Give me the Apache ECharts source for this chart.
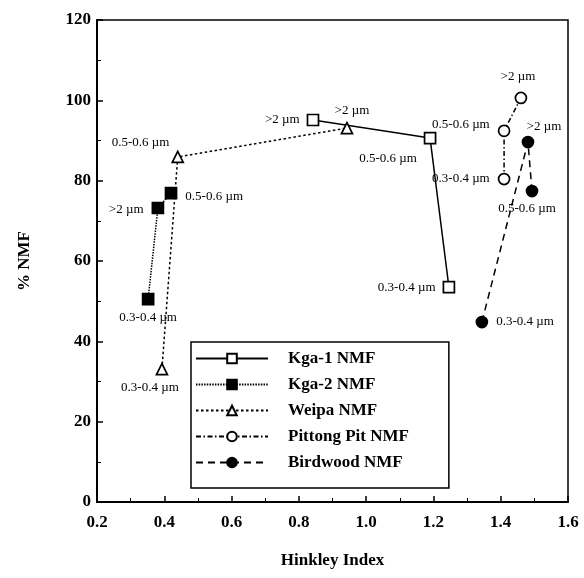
<!DOCTYPE html>
<html>
<head>
<meta charset="utf-8">
<script src="https://cdn.jsdelivr.net/npm/echarts@6/dist/echarts.min.js"></script>
<style>
  html, body { margin: 0; padding: 0; background: #fff; }
  #chart { width: 584px; height: 578px; }
</style>
</head>
<body>
<div id="chart"></div>
<script>
// 数据（按连线顺序）
const kga1Hinkley = [1.246, 1.19, 0.842];
const kga1Nmf = [53.5, 90.6, 95.1];
const kga1Size = ['0.3-0.4 µm', '0.5-0.6 µm', '>2 µm'];

const kga2Hinkley = [0.352, 0.381, 0.42];
const kga2Nmf = [50.5, 73.2, 76.9];
const kga2Size = ['0.3-0.4 µm', '>2 µm', '0.5-0.6 µm'];

const weipaHinkley = [0.393, 0.44, 0.943];
const weipaNmf = [33.1, 85.9, 93.1];
const weipaSize = ['0.3-0.4 µm', '0.5-0.6 µm', '>2 µm'];

const pittongHinkley = [1.41, 1.41, 1.46];
const pittongNmf = [80.4, 92.4, 100.6];
const pittongSize = ['0.3-0.4 µm', '0.5-0.6 µm', '>2 µm'];

const birdwoodHinkley = [1.344, 1.481, 1.493];
const birdwoodNmf = [44.8, 89.6, 77.4];
const birdwoodSize = ['0.3-0.4 µm', '>2 µm', '0.5-0.6 µm'];

const SERIF = 'Liberation Serif';

// 标签位置 [position, distance, offsetX, offsetY]
const kga1Lbl = [['left', 7, 0, 0], ['bottom', 6, -42, 2], ['left', 7, 0, 0]];
const kga2Lbl = [['bottom', 6, 0, 0], ['left', 8, 0, 2], ['right', 8, 0, 3]];
const weipaLbl = [['bottom', 6, -12, 0], ['left', 2, 0, -14], ['top', 5, 5, 0]];
const pittongLbl = [['left', 8, 0, 0], ['left', 8, 0, -6], ['top', 8, -3, 0]];
const birdwoodLbl = [['right', 8, 0, 0], ['top', 3, 16, 0], ['bottom', 5, -5, 0]];

function buildData(xs, ys, sizes, lbl) {
  return xs.map((x, i) => ({
    value: [x, ys[i]],
    label: {
      show: true,
      formatter: sizes[i],
      position: lbl[i][0],
      distance: lbl[i][1],
      offset: [lbl[i][2], lbl[i][3]],
      fontFamily: SERIF,
      fontSize: 13,
      color: '#000'
    }
  }));
}

function lineSeries(name, xs, ys, sizes, lbl, symbol, filled, lineType) {
  return {
    name: name,
    type: 'line',
    data: buildData(xs, ys, sizes, lbl),
    symbol: symbol,
    symbolSize: 11,
    showAllSymbol: true,
    animation: false,
    lineStyle: { color: '#000', width: 1.5, type: lineType },
    itemStyle: {
      color: filled ? '#000' : '#fff',
      borderColor: '#000',
      borderWidth: 1.7
    },
    emphasis: { disabled: true },
    z: 3
  };
}

const chart = echarts.init(document.getElementById('chart'));

const axisLabelStyle = {
  fontFamily: SERIF,
  fontWeight: 'bold',
  fontSize: 17,
  color: '#000'
};

const option = {
  backgroundColor: '#fff',
  animation: false,
  grid: {
    left: 97,
    right: 16,
    top: 20,
    bottom: 76,
    show: true,
    borderColor: '#000',
    borderWidth: 1.5
  },
  legend: {
    orient: 'vertical',
    left: 191,
    top: 342,
    width: 267,
    padding: [8, 40, 17, 4],
    borderColor: '#000',
    borderWidth: 1.5,
    itemWidth: 72,
    itemHeight: 12,
    itemGap: 9,
    selectedMode: false,
    textStyle: {
      fontFamily: SERIF,
      fontWeight: 'bold',
      fontSize: 17,
      lineHeight: 16,
      color: '#000',
      padding: [0, 0, 0, 15]
    },
    data: ['Kga-1 NMF', 'Kga-2 NMF', 'Weipa NMF', 'Pittong Pit NMF', 'Birdwood NMF']
  },
  xAxis: {
    type: 'value',
    min: 0.2,
    max: 1.6,
    interval: 0.2,
    name: 'Hinkley Index',
    nameLocation: 'middle',
    nameGap: 50,
    nameTextStyle: axisLabelStyle,
    axisLine: { lineStyle: { color: '#000', width: 2 } },
    axisTick: { inside: true, length: 6, lineStyle: { color: '#000', width: 1.5 } },
    minorTick: { show: true, splitNumber: 2, length: 4, lineStyle: { color: '#000', width: 1 } },
    splitLine: { show: false },
    axisLabel: Object.assign({ margin: 12, formatter: (v) => v.toFixed(1) }, axisLabelStyle)
  },
  yAxis: {
    type: 'value',
    min: 0,
    max: 120,
    interval: 20,
    name: '% NMF',
    nameLocation: 'middle',
    nameGap: 64,
    nameRotate: 90,
    nameTextStyle: axisLabelStyle,
    axisLine: { show: true, lineStyle: { color: '#000', width: 2 } },
    axisTick: { show: true, inside: true, length: 6, lineStyle: { color: '#000', width: 1.5 } },
    minorTick: { show: true, splitNumber: 2, length: 4, lineStyle: { color: '#000', width: 1 } },
    splitLine: { show: false },
    axisLabel: Object.assign({ margin: 6 }, axisLabelStyle)
  },
  series: [
    lineSeries('Kga-1 NMF', kga1Hinkley, kga1Nmf, kga1Size, kga1Lbl, 'rect', false, 'solid'),
    lineSeries('Kga-2 NMF', kga2Hinkley, kga2Nmf, kga2Size, kga2Lbl, 'rect', true, [1.5, 1.2]),
    lineSeries('Weipa NMF', weipaHinkley, weipaNmf, weipaSize, weipaLbl, 'triangle', false, [2.5, 2.5]),
    lineSeries('Pittong Pit NMF', pittongHinkley, pittongNmf, pittongSize, pittongLbl, 'circle', false, [5, 2.5, 1.5, 2.5]),
    lineSeries('Birdwood NMF', birdwoodHinkley, birdwoodNmf, birdwoodSize, birdwoodLbl, 'circle', true, [7, 5])
  ]
};

chart.setOption(option);
</script>
</body>
</html>
